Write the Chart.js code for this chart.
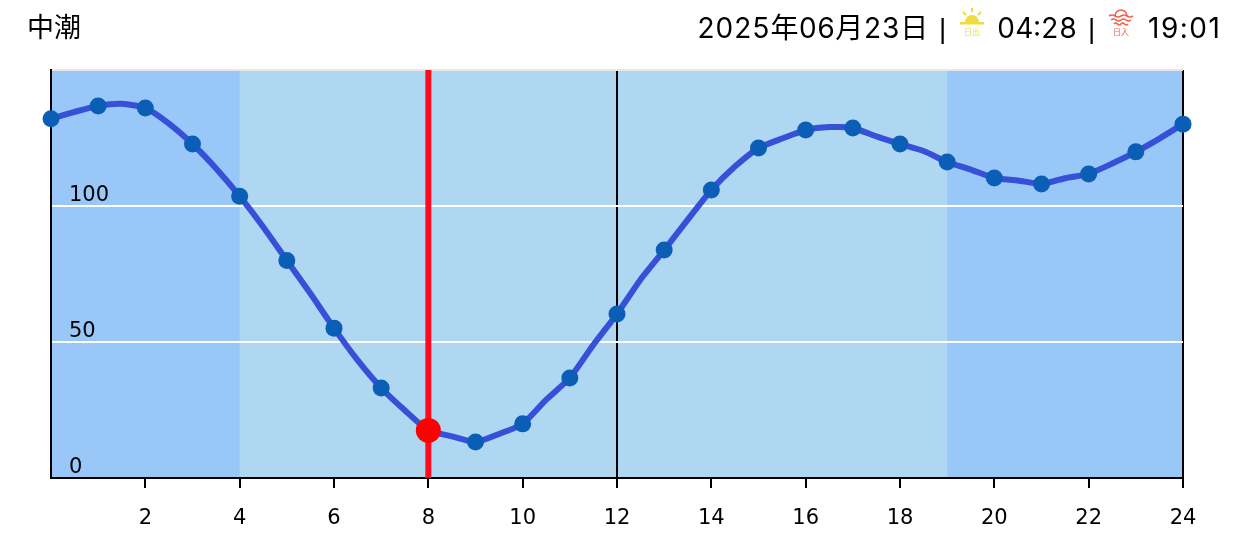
<!DOCTYPE html>
<html lang="ja">
<head>
<meta charset="utf-8">
<title>中潮</title>
<script src="https://cdn.jsdelivr.net/npm/chart.js@4/dist/chart.umd.min.js"></script>
<style>
    html, body { margin: 0; padding: 0; background: #ffffff; }
    #wrap { position: relative; width: 1238px; height: 550px; overflow: hidden; }
    #chart { position: absolute; left: 0; top: 0; }
    .head { position: absolute; top: 9px; line-height: 38px; font-size: 28px; color: #000000; white-space: nowrap;
        font-family: Inter, "Noto Sans CJK JP", sans-serif; font-feature-settings: "tnum"; }
    .pipe { font-family: "Liberation Sans", sans-serif; top: 10px; }
    .icon { position: absolute; top: 7px; width: 26px; height: 32px; }
    .icon svg { display: block; }
    .icon span { position: absolute; left: 0; right: 0; top: 20px; text-align: center; font-size: 8px; line-height: 10px;
        font-family: "Noto Sans CJK JP", sans-serif; }
</style>
</head>
<body>
<div id="wrap">
    <canvas id="chart" width="1238" height="550"></canvas>
    <div class="head" style="left:27px;font-size:27px">中潮</div>
    <div class="head" style="left:697px;letter-spacing:0.2px">2025年06月23日</div>
    <div class="head pipe" style="left:939px">|</div>
    <div class="icon" style="left:959px">
        <svg width="26" height="20" viewBox="0 0 26 20">
            <path d="M6 15a7 7 0 0 1 14 0z" fill="#eedc3c"/>
            <rect x="1" y="15" width="24" height="2.5" fill="#eedc3c"/>
            <path d="M13 1v4M4 5l3 3M22 5l-3 3" stroke="#eedc3c" stroke-width="2" fill="none"/>
        </svg>
        <span style="color:#eedc3c">日出</span>
    </div>
    <div class="head" style="left:997px">04:28</div>
    <div class="head pipe" style="left:1088px">|</div>
    <div class="icon" style="left:1108px">
        <svg width="26" height="20" viewBox="0 0 26 20">
            <path d="M7 9a6 6 0 0 1 12 0" stroke="#f0604c" stroke-width="1.6" fill="none"/>
            <path d="M1 9q3-2 6 0t6 0t6 0t6 0M3 13q2.500-2 5 0t5 0t5 0t5 0M6 17q1.750-2 3.500 0t3.500 0t3.500 0t3.500 0" stroke="#f0604c" stroke-width="1.6" fill="none"/>
        </svg>
        <span style="color:#f0604c">日入</span>
    </div>
    <div class="head" style="left:1148px;font-feature-settings:normal;letter-spacing:1.5px">19:01</div>
</div>

<script>
// hourly tide level (the round markers)
const hours = [0, 1, 2, 3, 4, 5, 6, 7, 8, 9, 10, 11, 12, 13, 14, 15, 16, 17, 18, 19, 20, 21, 22, 23, 24];
const tideLevels = [132.1, 136.8, 136.0, 122.8, 103.6, 80.0, 55.1, 33.1, 17.5, 13.2, 19.9, 36.8, 60.3, 83.8, 105.9, 121.3, 127.9, 128.7, 122.8, 116.2, 110.3, 108.1, 111.8, 119.9, 130.1];

// the line bends between markers too, so it gets its own half hour readings
const lineHours = [0, 0.5, 1, 1.5, 2, 2.5, 3, 3.5, 4, 4.5, 5, 5.5, 6, 6.5, 7, 7.5, 8, 8.5, 9, 9.5, 10, 10.5, 11, 11.5, 12, 12.5, 13, 13.5, 14, 14.5, 15, 15.5, 16, 16.5, 17, 17.5, 18, 18.5, 19, 19.5, 20, 20.5, 21, 21.5, 22, 22.5, 23, 23.5, 24];
const lineLevels = [132.1, 134.6, 136.8, 137.6, 136.0, 130.3, 122.8, 113.8, 103.6, 92.3, 80.0, 67.8, 55.1, 43.3, 33.1, 24.9, 17.5, 15.3, 13.2, 16.2, 19.9, 28.8, 36.8, 49.0, 60.3, 73.0, 83.8, 95.0, 105.9, 114.5, 121.3, 124.8, 127.9, 129.0, 128.7, 125.6, 122.8, 120.2, 116.2, 113.4, 110.3, 109.4, 108.1, 110.2, 111.8, 115.6, 119.9, 124.8, 130.1];

const currentHour = 8;
const currentLevel = 17.5;
const sunriseHour = 4;
const sunsetHour = 19;

const xMin = 0;
const xMax = 24;
const xStep = 2;
const yMin = 0;
const yMax = 150;
const yStep = 50;
const blackHours = [12, 24];

// day and night bands behind the grid
const dayNightBands = {
    id: 'dayNightBands',
    beforeDraw: function(chart) {
        const ctx = chart.ctx;
        const area = chart.chartArea;
        const xs = chart.scales.x;
        const left = xs.getPixelForValue(sunriseHour);
        const right = xs.getPixelForValue(sunsetHour);
        ctx.save();
        ctx.fillStyle = '#99c8f8';
        ctx.fillRect(area.left, area.top, area.right - area.left, area.bottom - area.top);
        ctx.fillStyle = '#b0d7f2';
        ctx.fillRect(left, area.top, right - left, area.bottom - area.top);
        ctx.restore();
    }
};

const tickFont = { family: '"DejaVu Sans", sans-serif', size: 21 };

new Chart(document.getElementById('chart').getContext('2d'), {
    type: 'line',
    data: {
        datasets: [
            {
                data: [{ x: currentHour, y: currentLevel }],
                pointRadius: 12.5,
                pointBackgroundColor: '#ff0000',
                pointBorderWidth: 0,
                showLine: false,
                clip: false,
                order: 1
            },
            {
                data: [{ x: currentHour, y: yMin }, { x: currentHour, y: yMax }],
                borderColor: '#ff0a1e',
                borderWidth: 6,
                pointRadius: 0,
                order: 2
            },
            {
                data: hours.map(function(h, i) { return { x: h, y: tideLevels[i] }; }),
                showLine: false,
                pointRadius: 8.5,
                pointBackgroundColor: '#0b5eb5',
                pointBorderWidth: 0,
                clip: false,
                order: 3
            },
            {
                data: lineHours.map(function(h, i) { return { x: h, y: lineLevels[i] }; }),
                borderColor: '#3650d8',
                borderWidth: 6,
                tension: 0.2,
                pointRadius: 0,
                clip: false,
                order: 4
            }
        ]
    },
    options: {
        responsive: false,
        animation: false,
        layout: {
            padding: { left: 51, right: 55, top: 70, bottom: 0 }
        },
        plugins: {
            legend: { display: false },
            tooltip: { enabled: false }
        },
        scales: {
            x: {
                type: 'linear',
                min: xMin,
                max: xMax,
                afterFit: function(scale) { scale.height = 72; },
                border: { color: '#000000', width: 2 },
                grid: {
                    color: function(c) { return blackHours.includes(c.tick.value) ? '#000000' : 'transparent'; },
                    tickColor: function(c) { return c.tick.value === xMin ? 'transparent' : '#000000'; },
                    lineWidth: 2,
                    tickWidth: 2,
                    tickLength: 10
                },
                ticks: {
                    stepSize: xStep,
                    color: '#000000',
                    font: tickFont,
                    padding: 18,
                    maxRotation: 0,
                    callback: function(value) { return value === xMin ? '' : value; }
                }
            },
            y: {
                min: yMin,
                max: yMax,
                afterFit: function(scale) { scale.width = 0; },
                border: { color: '#000000', width: 2 },
                grid: {
                    color: function(c) {
                        if (c.tick.value === yMin) return 'transparent';
                        return c.tick.value === yMax ? '#e8e8e8' : '#ffffff';
                    },
                    lineWidth: 2,
                    drawTicks: false
                },
                ticks: {
                    stepSize: yStep,
                    color: '#000000',
                    font: tickFont,
                    mirror: true,
                    padding: 18,
                    labelOffset: -10,
                    callback: function(value) { return value === yMax ? '' : value; }
                }
            }
        }
    },
    plugins: [dayNightBands]
});
</script>
</body>
</html>
